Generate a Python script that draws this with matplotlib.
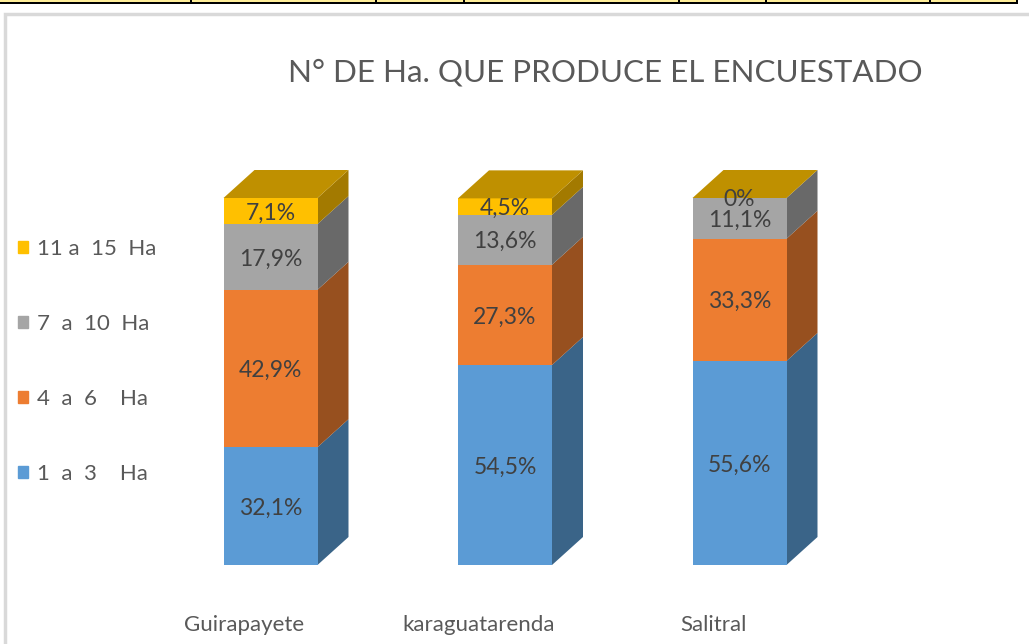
"""
stacked 3d-look columns, ha per respondent
"""
import matplotlib
matplotlib.use('Agg')
import matplotlib.pyplot as plt
from matplotlib.patches import Polygon, Patch, Rectangle

plt.rcParams['font.family'] = ['Lato', 'DejaVu Sans']

# data
places = ['Guirapayete', 'karaguatarenda', 'Salitral']
series_names = ['1  a  3    Ha', '4  a  6    Ha', '7  a  10  Ha', '11 a  15  Ha']
ha_1_3 = [32.1, 54.5, 55.6]
ha_4_6 = [42.9, 27.3, 33.3]
ha_7_10 = [17.9, 13.6, 11.1]
ha_11_15 = [7.1, 4.5, 0]
labels_1_3 = ['32,1%', '54,5%', '55,6%']
labels_4_6 = ['42,9%', '27,3%', '33,3%']
labels_7_10 = ['17,9%', '13,6%', '11,1%']
labels_11_15 = ['7,1%', '4,5%', '0%']
title = 'N° DE Ha. QUE PRODUCE EL ENCUESTADO'
table_ticks = [190, 375, 463, 678, 765, 929, 1016]

# styles
front_colors = ['#5B9BD5', '#ED7D31', '#A5A5A5', '#FFC000']
side_colors = ['#3A6488', '#97501F', '#696969', '#A37A00']
top_color = '#BF9000'
text_color = '#595959'
label_color = '#404040'

W, H = 1029, 644
px_x = 234.5  # pixels per category
px_y = 3.67   # pixels per percent
x0_px, y0_px = 270.5, 565

fig = plt.figure(figsize=(W / 100, H / 100), dpi=100)
ax = fig.add_axes([0, 0, 1, 1])
ax.set_xlim(-x0_px / px_x, (W - x0_px) / px_x)
ax.set_ylim((y0_px - H) / px_y, y0_px / px_y)
ax.axis('off')

bar_w = 94 / px_x
dx = 31 / px_x
dy = 28 / px_y

all_vals = [ha_1_3, ha_4_6, ha_7_10, ha_11_15]
all_labels = [labels_1_3, labels_4_6, labels_7_10, labels_11_15]

bottoms = [0, 0, 0]
for s, vals in enumerate(all_vals):
    ax.bar(range(3), vals, bar_w, bottom=bottoms, color=front_colors[s], zorder=3)
    for i, v in enumerate(vals):
        right = i + bar_w / 2
        y1 = bottoms[i]
        y2 = y1 + v
        ax.add_patch(Polygon(
            [(right, y1), (right, y2), (right + dx, y2 + dy), (right + dx, y1 + dy)],
            closed=True, color=side_colors[s], lw=0, zorder=2
        ))
        # labels sit a touch below the segment centre
        ax.text(i, y1 + v / 2 - 2 / px_y, all_labels[s][i], ha='center', va='center',
                fontsize=16.5, color=label_color, zorder=5)
    bottoms = [b + v for b, v in zip(bottoms, vals)]

# top faces
for i, top in enumerate(bottoms):
    left = i - bar_w / 2
    right = i + bar_w / 2
    ax.add_patch(Polygon(
        [(left, top), (right, top), (right + dx, top + dy), (left + dx, top + dy)],
        closed=True, color=top_color, lw=0, zorder=4
    ))

# category names sit left of the column centres
for i, name in enumerate(places):
    ax.text(i - 26 / px_x, (y0_px - 625) / px_y, name, ha='center', va='center',
            fontsize=16, color=text_color)

fig.text(605 / W, 1 - 72 / H, title, ha='center', va='center', fontsize=22.6, color=text_color)

handles = [Patch(color=c) for c in front_colors[::-1]]
fig.legend(handles, series_names[::-1], loc='upper left', bbox_to_anchor=(18 / W, 1 - 239 / H),
           frameon=False, fontsize=16, labelcolor=text_color, labelspacing=2.48,
           handlelength=0.45, handleheight=0.45, handletextpad=0.4, borderpad=0, borderaxespad=0)

# chart frame and scrap of the table above it
fig.add_artist(Rectangle((5 / W, -0.01), 1.01, 1 - 13.5 / H + 0.01, transform=fig.transFigure,
                         fill=False, ec='#D9D9D9', lw=2.5))
fig.add_artist(Rectangle((0, 1 - 2 / H), 1017 / W, 2 / H, transform=fig.transFigure,
                         fc='#FFEE99', ec='none'))
fig.add_artist(Rectangle((0, 1 - 4 / H), 1017 / W, 2 / H, transform=fig.transFigure,
                         fc='black', ec='none'))
for t in table_ticks:
    fig.add_artist(Rectangle((t / W, 1 - 4 / H), 2 / W, 4 / H, transform=fig.transFigure,
                             fc='black', ec='none'))

plt.savefig('out.png', dpi=100)
